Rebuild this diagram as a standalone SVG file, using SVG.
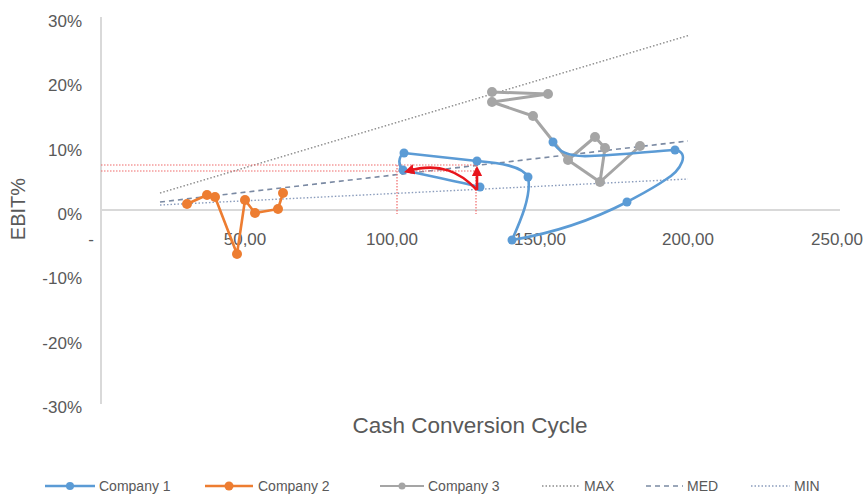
<svg xmlns="http://www.w3.org/2000/svg" width="867" height="496" viewBox="0 0 867 496">
<style>
.lbl{font-family:"Liberation Sans",Arial,sans-serif;font-size:17px;fill:#595959}
.ttl{font-family:"Liberation Sans",Arial,sans-serif;fill:#595959}
.leg{font-family:"Liberation Sans",Arial,sans-serif;font-size:14px;fill:#595959}
.axis{stroke:#d9d9d9;stroke-width:2;fill:none}
.max{stroke:#8c8c8c;stroke-width:1.4;stroke-dasharray:1.5 2;fill:none}
.med{stroke:#7b8aa3;stroke-width:1.6;stroke-dasharray:5 4;fill:none}
.min{stroke:#8a9cbc;stroke-width:1.4;stroke-dasharray:1.5 2;fill:none}
.redg{stroke:#f06a6a;stroke-width:1.2;stroke-dasharray:1.5 1.5;fill:none}
.c1{stroke:#5b9bd5;stroke-width:2.6;fill:none;stroke-linejoin:round}
.c2{stroke:#ed7d31;stroke-width:2.6;fill:none;stroke-linejoin:round}
.c3{stroke:#a5a5a5;stroke-width:3;fill:none;stroke-linejoin:round}
.m1{fill:#5b9bd5}
.m2{fill:#ed7d31}
.m3{fill:#a5a5a5}
.red{stroke:#e8141b;stroke-width:2.6;fill:none}
</style>
<defs>
<marker id="ah" viewBox="0 0 10 10" refX="6" refY="5" markerWidth="4" markerHeight="4" orient="auto"><path d="M0,0 L10,5 L0,10 z" fill="#e8141b"/></marker>
</defs>
<rect width="867" height="496" fill="#ffffff"/>

<g id="axes">
<line class="axis" x1="101" y1="17" x2="101" y2="404"/>
<line class="axis" x1="101" y1="210" x2="840" y2="210"/>
</g>

<g id="y-labels" class="lbl" text-anchor="end">
<text x="82" y="27">30%</text>
<text x="82" y="91">20%</text>
<text x="82" y="156">10%</text>
<text x="82" y="220">0%</text>
<text x="82" y="284">-10%</text>
<text x="82" y="349">-20%</text>
<text x="82" y="413">-30%</text>
</g>

<g id="x-labels" class="lbl" text-anchor="middle">
<text x="91" y="245">-</text>
<text x="245" y="245">50,00</text>
<text x="392" y="245">100,00</text>
<text x="540" y="245">150,00</text>
<text x="688" y="245">200,00</text>
<text x="837" y="245">250,00</text>
</g>

<text class="ttl" font-size="20" text-anchor="middle" transform="translate(25,209) rotate(-90)">EBIT%</text>
<text class="ttl" font-size="22.5" text-anchor="middle" x="470" y="433">Cash Conversion Cycle</text>

<g id="trendlines">
<line class="max" x1="160" y1="193" x2="690" y2="35"/>
<line class="med" x1="160" y1="202" x2="688" y2="141"/>
<line class="min" x1="160" y1="205" x2="688" y2="179"/>
</g>

<g id="guides">
<line class="redg" x1="101" y1="165" x2="477" y2="165"/>
<line class="redg" x1="101" y1="171" x2="477" y2="171"/>
<line class="redg" x1="397" y1="165" x2="397" y2="214"/>
<line class="redg" x1="476" y1="165" x2="476" y2="214"/>
</g>

<g id="company2">
<polyline class="c2" points="187,204 207,195 215,197 237,254 245,200 255,213 278,209 283,193"/>
<g class="m2">
<circle cx="187" cy="204" r="5"/><circle cx="207" cy="195" r="5"/><circle cx="215" cy="197" r="5"/><circle cx="237" cy="254" r="5"/><circle cx="245" cy="200" r="5"/><circle cx="255" cy="213" r="5"/><circle cx="278" cy="209" r="5"/><circle cx="283" cy="193" r="5"/>
</g>
</g>

<g id="company3">
<polyline class="c3" points="492,92 548,94 492,102 533,116 568,160 595,137 605,148 600,182 640,146"/>
<line class="c3" x1="568" y1="160" x2="600" y2="182"/>
<g class="m3">
<circle cx="492" cy="92" r="5"/><circle cx="548" cy="94" r="5"/><circle cx="492" cy="102" r="5"/><circle cx="533" cy="116" r="5"/><circle cx="568" cy="160" r="5"/><circle cx="595" cy="137" r="5"/><circle cx="605" cy="148" r="5"/><circle cx="600" cy="182" r="5"/><circle cx="640" cy="146" r="5"/>
</g>
</g>

<g id="company1">
<path class="c1" d="M553,142 C558,152 570,157 590,156 C620,155 655,151 675,150 C690,152 682,170 665,180 C652,189 638,196 627,202 C600,216 560,232 512,240 C520,222 532,195 528,177 C522,166 500,163 477,161 L404,153 C398,157 398,165 403,170 C430,176 460,182 480,187"/>
<g class="m1">
<circle cx="553" cy="142" r="4.5"/><circle cx="675" cy="150" r="4.5"/><circle cx="627" cy="202" r="4.5"/><circle cx="512" cy="240" r="4.5"/><circle cx="528" cy="177" r="4.5"/><circle cx="477" cy="161" r="4.5"/><circle cx="404" cy="153" r="4.5"/><circle cx="403" cy="170" r="4.5"/><circle cx="480" cy="187" r="4.5"/>
</g>
</g>

<g id="annotation">
<path class="red" d="M477,190 C460,172 440,162 408,171" marker-end="url(#ah)"/>
<path class="red" d="M477,190 L477,170" marker-end="url(#ah)"/>
</g>

<g id="legend">
<line class="c1" x1="45" y1="486" x2="95" y2="486"/><circle class="m1" cx="70" cy="486" r="4"/>
<text class="leg" x="99" y="491">Company 1</text>
<line class="c2" x1="205" y1="486" x2="253" y2="486"/><circle class="m2" cx="229" cy="486" r="4.5"/>
<text class="leg" x="258" y="491">Company 2</text>
<line class="c3" x1="380" y1="486" x2="424" y2="486" style="stroke-width:2.2"/><circle class="m3" cx="402" cy="486" r="3.5"/>
<text class="leg" x="428" y="491">Company 3</text>
<line class="max" x1="542" y1="486" x2="580" y2="486"/>
<text class="leg" x="584" y="491">MAX</text>
<line class="med" x1="646" y1="486" x2="683" y2="486"/>
<text class="leg" x="687" y="491">MED</text>
<line class="min" x1="751" y1="486" x2="790" y2="486"/>
<text class="leg" x="794" y="491">MIN</text>
</g>
</svg>
